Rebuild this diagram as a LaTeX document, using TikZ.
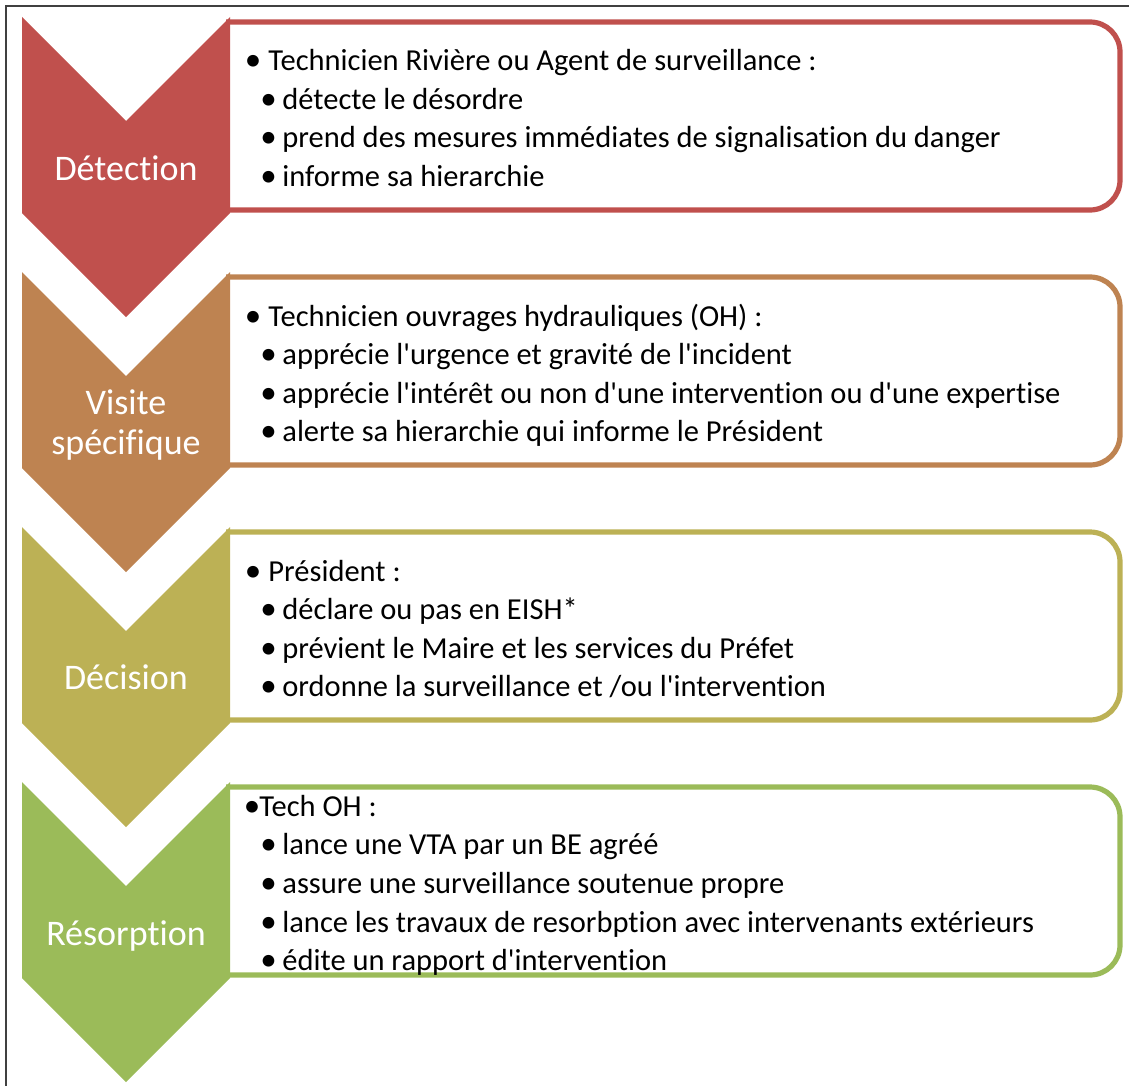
\documentclass[tikz,border=0pt]{standalone}
\usepackage{fontspec}
\setmainfont{Carlito}[Ligatures={TeXOff,CommonOff}]
\definecolor{cA}{HTML}{C0504D}
\definecolor{cB}{HTML}{BE8351}
\definecolor{cC}{HTML}{BCB155}
\definecolor{cD}{HTML}{9BBB59}
\definecolor{frameC}{HTML}{404040}
\tikzset{
  frameline/.style={draw=frameC, line width=0.8pt},
  boxline/.style={draw=#1, line width=2.6pt, rounded corners=15pt},
  chev/.style={fill=#1},
  lbl/.style={text=white, font=\fontsize{18}{20}\selectfont, align=center, inner sep=0pt},
  txt/.style={font=\fontsize{15.25}{19}\selectfont, anchor=base west, inner sep=0pt, text=black},
  bul/.style={font=\fontsize{16.5}{19}\selectfont, anchor=base, inner sep=0pt, text=black},
}
\newcommand\lvlA[3]{\node[bul] (#1b) at (253,#2) {•};\node[txt] (#1) at (268,#2) {#3};}
\newcommand\lvlB[3]{\node[bul] (#1b) at (268.5,#2) {•};\node[txt] (#1) at (282,#2) {#3};}
\newcommand\chevshape[2]{% top y, colour
  \draw[boxline=#2] (226,#1+5) -- (1120,#1+5) -- (1120,#1+193) -- (226,#1+193);
  \fill[chev=#2] (22,#1) -- (126,#1+104) -- (230,#1) -- (230,#1+196) -- (126,#1+300) -- (22,#1+196) -- cycle;}
\begin{document}
\begin{tikzpicture}[x=0.5pt, y={(0,-0.5pt)}]
\useasboundingbox (0,0) rectangle (1129,1086);
\draw[frameline] (6,1086) -- (6,6) -- (1129,6);
% step 1
\chevshape{17}{cA}
\node[lbl, anchor=base] (l1) at (126,180) {Détection};
\lvlA{a1}{71}{Technicien Rivière ou Agent de surveillance :}
\lvlB{a2}{109.5}{détecte le désordre}
\lvlB{a3}{148}{prend des mesures immédiates de signalisation du danger}
\lvlB{a4}{186.5}{informe sa hierarchie}
% step 2
\chevshape{272}{cB}
\node[lbl] (l2) at (126,425) {Visite\\spécifique};
\lvlA{b1}{326}{Technicien ouvrages hydrauliques (OH) :}
\lvlB{b2}{364.5}{apprécie l'urgence et gravité de l'incident}
\lvlB{b3}{403}{apprécie l'intérêt ou non d'une intervention ou d'une expertise}
\lvlB{b4}{441.5}{alerte sa hierarchie qui informe le Président}
% step 3
\chevshape{527}{cC}
\node[lbl, anchor=base] (l3) at (126,689) {Décision};
\lvlA{c1}{581}{Président :}
\lvlB{c2}{619.5}{déclare ou pas en EISH*}
\lvlB{c3}{658}{prévient le Maire et les services du Préfet}
\lvlB{c4}{696.5}{ordonne la surveillance et /ou l'intervention}
% step 4
\chevshape{782}{cD}
\node[lbl, anchor=base] (l4) at (126,945) {Résorption};
\node[bul] (d1b) at (252,816) {•};
\node[txt] (d1) at (259,816) {Tech OH :};
\lvlB{d2}{854.7}{lance une VTA par un BE agréé}
\lvlB{d3}{893.4}{assure une surveillance soutenue propre}
\lvlB{d4}{932}{lance les travaux de resorbption avec intervenants extérieurs}
\lvlB{d5}{970.8}{édite un rapport d'intervention}
\end{tikzpicture}
\end{document}
